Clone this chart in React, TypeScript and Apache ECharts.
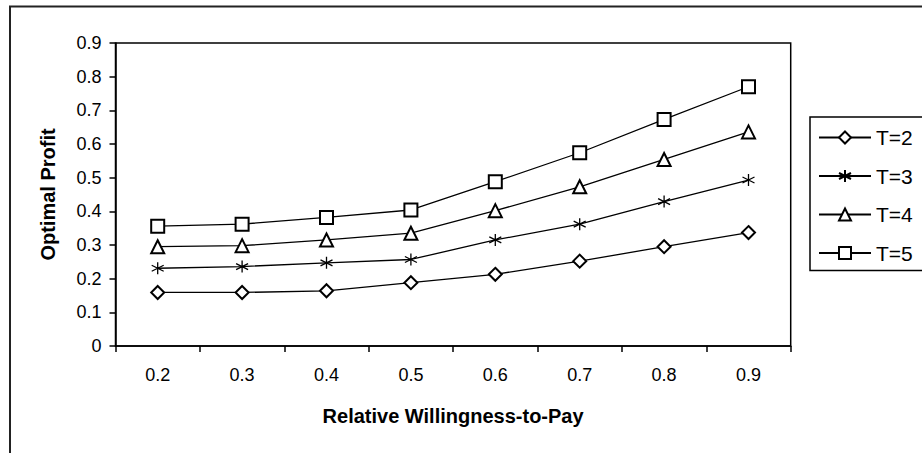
import React, { useEffect, useRef } from "react";
import * as echarts from "echarts";

const categories = ["0.2", "0.3", "0.4", "0.5", "0.6", "0.7", "0.8", "0.9"];
const seriesNames = ["T=2", "T=3", "T=4", "T=5"];
const t2 = [0.159, 0.159, 0.164, 0.188, 0.213, 0.252, 0.295, 0.337];
const t3 = [0.231, 0.236, 0.247, 0.257, 0.315, 0.362, 0.429, 0.493];
const t4 = [0.295, 0.298, 0.315, 0.335, 0.402, 0.473, 0.554, 0.636];
const t5 = [0.356, 0.362, 0.382, 0.404, 0.488, 0.574, 0.673, 0.770];
const xTitle = "Relative Willingness-to-Pay";
const yTitle = "Optimal Profit";

const FONT = "Liberation Sans, Arial, sans-serif";
const STAR = "path://M0,-1 L0,1 M-0.87,-0.5 L0.87,0.5 M0.87,-0.5 L-0.87,0.5";

export default function App() {
  const ref = useRef<HTMLDivElement>(null);
  useEffect(() => {
    if (!ref.current) return;
    const chart = echarts.init(ref.current, null, { renderer: "svg" });
    const mk = (name: string, data: number[], symbol: string, size: number) => ({
      name,
      type: "line",
      data,
      symbol,
      symbolSize: size,
      showAllSymbol: true,
      lineStyle: { color: "#000", width: 1.3 },
      itemStyle: { color: "#000", borderColor: "#000", borderWidth: 1.3 },
      emphasis: { disabled: true },
    });
    chart.setOption({
      animation: false,
      backgroundColor: "#fff",
      textStyle: { fontFamily: FONT, color: "#000" },
      graphic: [
        {
          type: "rect",
          shape: { x: 10, y: 6.5, width: 1000, height: 1000 },
          style: { fill: "none", stroke: "#222", lineWidth: 2 },
          silent: true,
        },
      ],
      grid: {
        left: 115.5,
        top: 43,
        right: 131.3,
        bottom: 107,
        show: true,
        borderColor: "#000",
        borderWidth: 1.5,
        backgroundColor: "transparent",
      },
      legend: {
        orient: "vertical",
        left: 810,
        top: 117,
        padding: [10, 40, 7, 8],
        itemWidth: 52,
        itemHeight: 15,
        itemGap: 17.5,
        borderColor: "#000",
        borderWidth: 1.5,
        textStyle: { fontFamily: FONT, fontSize: 21, color: "#000" },
        data: seriesNames,
      },
      xAxis: {
        type: "category",
        data: categories,
        boundaryGap: true,
        name: xTitle,
        nameLocation: "middle",
        nameGap: 60,
        nameTextStyle: { fontFamily: FONT, fontSize: 20, fontWeight: "bold", color: "#000" },
        axisLine: { lineStyle: { color: "#000", width: 1.5 } },
        axisTick: { show: true, length: 6, lineStyle: { color: "#000", width: 1.5 } },
        axisLabel: { fontFamily: FONT, fontSize: 18, color: "#000", margin: 20 },
        splitLine: { show: false },
      },
      yAxis: {
        type: "value",
        min: 0,
        max: 0.9,
        interval: 0.1,
        name: yTitle,
        nameLocation: "middle",
        nameGap: 58,
        nameTextStyle: { fontFamily: FONT, fontSize: 20, fontWeight: "bold", color: "#000" },
        axisLine: { show: true, lineStyle: { color: "#000", width: 1.5 } },
        axisTick: { show: true, length: 6, lineStyle: { color: "#000", width: 1.5 } },
        axisLabel: {
          fontFamily: FONT,
          fontSize: 18,
          color: "#000",
          margin: 14,
          formatter: (v: number) => (v === 0 ? "0" : v.toFixed(1)),
        },
        splitLine: { show: false },
      },
      series: [
        mk(seriesNames[0], t2, "emptyDiamond", 13),
        mk(seriesNames[1], t3, STAR, 12),
        mk(seriesNames[2], t4, "emptyTriangle", 13),
        mk(seriesNames[3], t5, "emptyRect", 13),
      ],
    });
    return () => chart.dispose();
  }, []);
  return (
    <div
      ref={ref}
      style={{ position: "absolute", left: 0, top: 0, width: 922, height: 453 }}
    />
  );
}
